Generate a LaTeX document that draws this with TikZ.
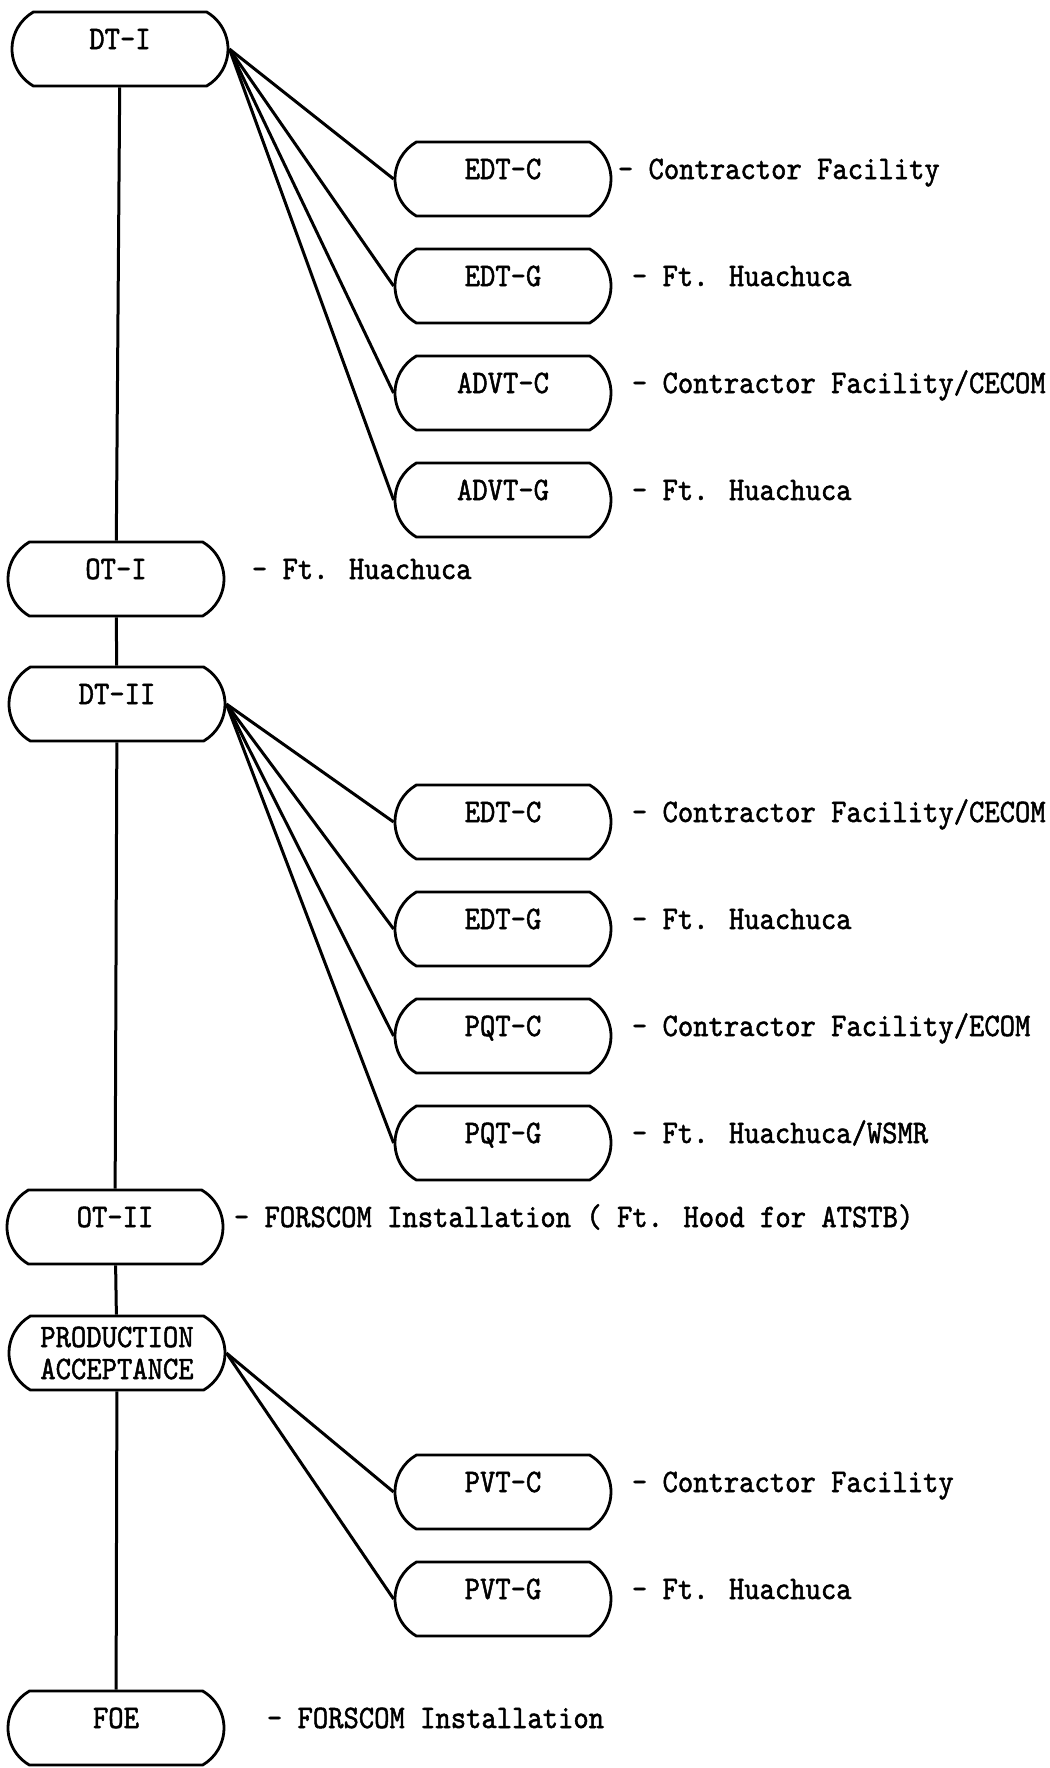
\documentclass[tikz,border=0pt]{standalone}
\usepackage{fontspec}
\newfontfamily\typer{lmmono10-regular.otf}[FakeStretch=0.89,FakeBold=1.5]
\usetikzlibrary{positioning,shapes.misc}

\tikzset{
  stage/.style={draw, rounded rectangle, rounded rectangle arc length=120,
    minimum width=108pt, minimum height=37pt, inner sep=0pt, line width=1.4pt,
    text height=5pt, text depth=5pt},
  site/.style={anchor=west, inner sep=0pt, text height=5pt, text depth=5pt},
}

\begin{document}
\begin{tikzpicture}[x=0.5pt,y=-0.5pt,node distance=53.5pt,on grid,
    font=\typer\fontsize{16.4pt}{16pt}\selectfont, line width=1.5pt]
  \useasboundingbox (0,0) rectangle (1050,1768);
  % main sequence
  \node[stage]  (dt1)   at (120,49)    {DT-I};
  \node[stage]  (ot1)   at (116,579)   {OT-I};
  \node[stage]  (dt2)   at (117,704)   {DT-II};
  \node[stage]  (ot2)   at (115,1227)  {OT-II};
  \node[stage, text height=, text depth=, align=center]
                (prod)  at (117,1353)  {PRODUCTION\\ACCEPTANCE};
  \node[stage]  (foe)   at (116,1728)  {FOE};
  % DT-I tests
  \node[stage]  (edtc1) at (503,179)       {EDT-C};
  \node[stage]  (edtg1) [below=of edtc1]   {EDT-G};
  \node[stage]  (advtc) [below=of edtg1]   {ADVT-C};
  \node[stage]  (advtg) [below=of advtc]   {ADVT-G};
  % DT-II tests
  \node[stage]  (edtc2) at (503,822)       {EDT-C};
  \node[stage]  (edtg2) [below=of edtc2]   {EDT-G};
  \node[stage]  (pqtc)  [below=of edtg2]   {PQT-C};
  \node[stage]  (pqtg)  [below=of pqtc]    {PQT-G};
  % production tests
  \node[stage]  (pvtc)  at (503,1492)      {PVT-C};
  \node[stage]  (pvtg)  [below=of pvtc]    {PVT-G};
  % sites
  \node[site] at ([xshift=2pt]edtc1.east)  {- Contractor Facility};
  \node[site] at ([xshift=9pt]edtg1.east)  {- Ft. Huachuca};
  \node[site] at ([xshift=9pt]advtc.east)  {- Contractor Facility/CECOM};
  \node[site] at ([xshift=9pt]advtg.east)  {- Ft. Huachuca};
  \node[site] at ([xshift=12.5pt]ot1.east) {- Ft. Huachuca};
  \node[site] at ([xshift=9pt]edtc2.east)  {- Contractor Facility/CECOM};
  \node[site] at ([xshift=9pt]edtg2.east)  {- Ft. Huachuca};
  \node[site] at ([xshift=9pt]pqtc.east)   {- Contractor Facility/ECOM};
  \node[site] at ([xshift=9pt]pqtg.east)   {- Ft. Huachuca/WSMR};
  \node[site] at ([xshift=4pt]ot2.east)    {- FORSCOM Installation ( Ft. Hood for ATSTB)};
  \node[site] at ([xshift=9pt]pvtc.east)   {- Contractor Facility};
  \node[site] at ([xshift=9pt]pvtg.east)   {- Ft. Huachuca};
  \node[site] at ([xshift=20pt]foe.east)   {- FORSCOM Installation};
  \path
   (dt1) edge (ot1)
   (ot1) edge (dt2)
   (dt2) edge (ot2)
   (ot2) edge (prod)
   (prod) edge (foe)
   (dt1.east) edge (edtc1.west)
   	edge (edtg1.west)
   	edge (advtc.west)
   	edge (advtg.west)
   (dt2.east) edge (edtc2.west)
   	edge (edtg2.west)
   	edge (pqtc.west)
   	edge (pqtg.west)
   (prod.east) edge (pvtc.west)
   	edge (pvtg.west);
\end{tikzpicture}
\end{document}
